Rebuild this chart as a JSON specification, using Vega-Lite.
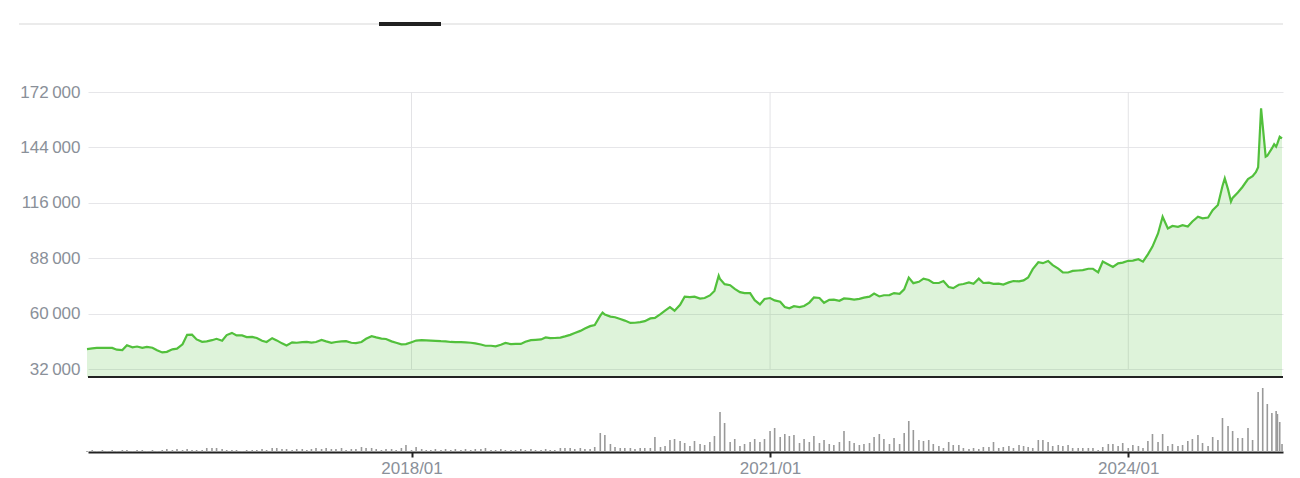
{
  "$schema": "https://vega.github.io/schema/vega-lite/v6.json",
  "autosize": {"type": "none"},
  "width": 1195,
  "height": 360,
  "padding": {"left": 88, "top": 92, "right": 17, "bottom": 26},
  "background": "#ffffff",
  "config": {
    "view": {"stroke": null},
    "font": "Liberation Sans"
  },
  "data": {"values": [
    {"d":"2015-04-15","p":42100,"v":1},{"d":"2015-05-01","p":42500,"v":2},{"d":"2015-05-15","p":42700,"v":1},
    {"d":"2015-06-01","p":42700,"v":2},{"d":"2015-06-15","p":42700,"v":1},{"d":"2015-07-01","p":42700,"v":2},
    {"d":"2015-07-15","p":41800,"v":1},{"d":"2015-08-01","p":41600,"v":2},{"d":"2015-08-15","p":44000,"v":2},
    {"d":"2015-09-01","p":43000,"v":1},{"d":"2015-09-15","p":43400,"v":2},{"d":"2015-10-01","p":42700,"v":2},
    {"d":"2015-10-15","p":43200,"v":1},{"d":"2015-11-01","p":42800,"v":2},{"d":"2015-11-15","p":41500,"v":1},
    {"d":"2015-12-01","p":40400,"v":2},{"d":"2015-12-15","p":40700,"v":3},{"d":"2016-01-01","p":42000,"v":2},
    {"d":"2016-01-15","p":42300,"v":3},{"d":"2016-02-01","p":44500,"v":2},{"d":"2016-02-15","p":49300,"v":3},
    {"d":"2016-03-01","p":49400,"v":2},{"d":"2016-03-15","p":47000,"v":2},{"d":"2016-04-01","p":45800,"v":2},
    {"d":"2016-04-15","p":46000,"v":4},{"d":"2016-05-01","p":46600,"v":4},{"d":"2016-05-15","p":47300,"v":4},
    {"d":"2016-06-01","p":46300,"v":3},{"d":"2016-06-15","p":49200,"v":2},{"d":"2016-07-01","p":50300,"v":2},
    {"d":"2016-07-15","p":49000,"v":2},{"d":"2016-08-01","p":49000,"v":1},{"d":"2016-08-15","p":48200,"v":2},
    {"d":"2016-09-01","p":48300,"v":2},{"d":"2016-09-15","p":47700,"v":2},{"d":"2016-10-01","p":46300,"v":3},
    {"d":"2016-10-15","p":45700,"v":2},{"d":"2016-11-01","p":47600,"v":4},{"d":"2016-11-15","p":46500,"v":4},
    {"d":"2016-12-01","p":45000,"v":3},{"d":"2016-12-15","p":43900,"v":3},{"d":"2017-01-01","p":45500,"v":2},
    {"d":"2017-01-15","p":45300,"v":3},{"d":"2017-02-01","p":45600,"v":3},{"d":"2017-02-15","p":45700,"v":2},
    {"d":"2017-03-01","p":45400,"v":3},{"d":"2017-03-15","p":45700,"v":4},{"d":"2017-04-01","p":46700,"v":3},
    {"d":"2017-04-15","p":46000,"v":4},{"d":"2017-05-01","p":45300,"v":3},{"d":"2017-05-15","p":45700,"v":3},
    {"d":"2017-06-01","p":46000,"v":4},{"d":"2017-06-15","p":46100,"v":2},{"d":"2017-07-01","p":45300,"v":3},
    {"d":"2017-07-15","p":45100,"v":3},{"d":"2017-08-01","p":45700,"v":5},{"d":"2017-08-15","p":47300,"v":4},
    {"d":"2017-09-01","p":48600,"v":4},{"d":"2017-09-15","p":48000,"v":3},{"d":"2017-10-01","p":47400,"v":2},
    {"d":"2017-10-15","p":47200,"v":3},{"d":"2017-11-01","p":46000,"v":3},{"d":"2017-11-15","p":45300,"v":2},
    {"d":"2017-12-01","p":44500,"v":4},{"d":"2017-12-15","p":44600,"v":7},{"d":"2018-01-01","p":45600,"v":2},
    {"d":"2018-01-15","p":46400,"v":5},{"d":"2018-02-01","p":46600,"v":3},{"d":"2018-02-15","p":46500,"v":2},
    {"d":"2018-03-01","p":46400,"v":2},{"d":"2018-03-15","p":46300,"v":3},{"d":"2018-04-01","p":46100,"v":2},
    {"d":"2018-04-15","p":46000,"v":3},{"d":"2018-05-01","p":45700,"v":2},{"d":"2018-05-15","p":45600,"v":3},
    {"d":"2018-06-01","p":45600,"v":2},{"d":"2018-06-15","p":45500,"v":3},{"d":"2018-07-01","p":45300,"v":2},
    {"d":"2018-07-15","p":45000,"v":3},{"d":"2018-08-01","p":44400,"v":3},{"d":"2018-08-15","p":43800,"v":4},
    {"d":"2018-09-01","p":43800,"v":2},{"d":"2018-09-15","p":43500,"v":2},{"d":"2018-10-01","p":44300,"v":3},
    {"d":"2018-10-15","p":45200,"v":2},{"d":"2018-11-01","p":44600,"v":2},{"d":"2018-11-15","p":44700,"v":2},
    {"d":"2018-12-01","p":44700,"v":3},{"d":"2018-12-15","p":45800,"v":2},{"d":"2019-01-01","p":46600,"v":3},
    {"d":"2019-01-15","p":46800,"v":2},{"d":"2019-02-01","p":47000,"v":2},{"d":"2019-02-15","p":48000,"v":3},
    {"d":"2019-03-01","p":47600,"v":2},{"d":"2019-03-15","p":47700,"v":2},{"d":"2019-04-01","p":47900,"v":4},
    {"d":"2019-04-15","p":48500,"v":4},{"d":"2019-05-01","p":49300,"v":4},{"d":"2019-05-15","p":50200,"v":3},
    {"d":"2019-06-01","p":51300,"v":4},{"d":"2019-06-15","p":52500,"v":3},{"d":"2019-07-01","p":53700,"v":3},
    {"d":"2019-07-15","p":54300,"v":5},{"d":"2019-08-01","p":59000,"v":19},{"d":"2019-08-08","p":60500},
    {"d":"2019-08-15","p":59500,"v":17},{"d":"2019-09-01","p":58500,"v":8},{"d":"2019-09-15","p":58200,"v":5},
    {"d":"2019-10-01","p":57300,"v":4},{"d":"2019-10-15","p":56500,"v":4},{"d":"2019-11-01","p":55300,"v":4},
    {"d":"2019-11-15","p":55400,"v":3},{"d":"2019-12-01","p":55700,"v":4},{"d":"2019-12-15","p":56200,"v":4},
    {"d":"2020-01-01","p":57600,"v":4},{"d":"2020-01-15","p":57900,"v":15},{"d":"2020-02-01","p":59800,"v":5},
    {"d":"2020-02-15","p":61500,"v":6},{"d":"2020-03-01","p":63300,"v":12},{"d":"2020-03-15","p":61500,"v":13},
    {"d":"2020-04-01","p":64500,"v":11},{"d":"2020-04-15","p":68600,"v":9},{"d":"2020-05-01","p":68400,"v":6},
    {"d":"2020-05-15","p":68600,"v":11},{"d":"2020-06-01","p":67600,"v":8},{"d":"2020-06-15","p":67900,"v":7},
    {"d":"2020-07-01","p":69200,"v":10},{"d":"2020-07-15","p":71500,"v":16},{"d":"2020-07-28","p":79200},
    {"d":"2020-08-01","p":77500,"v":40},{"d":"2020-08-15","p":74900,"v":29},{"d":"2020-09-01","p":74400,"v":10},
    {"d":"2020-09-15","p":72500,"v":13},{"d":"2020-10-01","p":70900,"v":6},{"d":"2020-10-15","p":70400,"v":8},
    {"d":"2020-11-01","p":70400,"v":10},{"d":"2020-11-15","p":66800,"v":13},{"d":"2020-12-01","p":64700,"v":10},
    {"d":"2020-12-15","p":67400,"v":13},{"d":"2021-01-01","p":67900,"v":21},{"d":"2021-01-15","p":66700,"v":24},
    {"d":"2021-02-01","p":66000,"v":15},{"d":"2021-02-15","p":63400,"v":18},{"d":"2021-03-01","p":62700,"v":16},
    {"d":"2021-03-15","p":63800,"v":17},{"d":"2021-04-01","p":63300,"v":9},{"d":"2021-04-15","p":63900,"v":13},
    {"d":"2021-05-01","p":65600,"v":10},{"d":"2021-05-15","p":68200,"v":16},{"d":"2021-06-01","p":67900,"v":9},
    {"d":"2021-06-15","p":65500,"v":12},{"d":"2021-07-01","p":67000,"v":8},{"d":"2021-07-15","p":67100,"v":7},
    {"d":"2021-08-01","p":66500,"v":10},{"d":"2021-08-15","p":67700,"v":21},{"d":"2021-09-01","p":67500,"v":11},
    {"d":"2021-09-15","p":67100,"v":9},{"d":"2021-10-01","p":67500,"v":7},{"d":"2021-10-15","p":68100,"v":8},
    {"d":"2021-11-01","p":68600,"v":9},{"d":"2021-11-15","p":70200,"v":15},{"d":"2021-12-01","p":68700,"v":18},
    {"d":"2021-12-15","p":69300,"v":13},{"d":"2022-01-01","p":69400,"v":8},{"d":"2022-01-15","p":70400,"v":14},
    {"d":"2022-02-01","p":70000,"v":8},{"d":"2022-02-15","p":72300,"v":19},{"d":"2022-03-01","p":78200,"v":31},
    {"d":"2022-03-15","p":75400,"v":22},{"d":"2022-04-01","p":76100,"v":12},{"d":"2022-04-15","p":77700,"v":11},
    {"d":"2022-05-01","p":77000,"v":12},{"d":"2022-05-15","p":75500,"v":8},{"d":"2022-06-01","p":75500,"v":6},
    {"d":"2022-06-15","p":76500,"v":4},{"d":"2022-07-01","p":73500,"v":10},{"d":"2022-07-15","p":72900,"v":7},
    {"d":"2022-08-01","p":74600,"v":7},{"d":"2022-08-15","p":75000,"v":4},{"d":"2022-09-01","p":75800,"v":3},
    {"d":"2022-09-15","p":75100,"v":4},{"d":"2022-10-01","p":77700,"v":3},{"d":"2022-10-15","p":75500,"v":5},
    {"d":"2022-11-01","p":75700,"v":5},{"d":"2022-11-15","p":75100,"v":10},{"d":"2022-12-01","p":75200,"v":4},
    {"d":"2022-12-15","p":74700,"v":5},{"d":"2023-01-01","p":75800,"v":6},{"d":"2023-01-15","p":76500,"v":4},
    {"d":"2023-02-01","p":76300,"v":7},{"d":"2023-02-15","p":76800,"v":6},{"d":"2023-03-01","p":78300,"v":5},
    {"d":"2023-03-15","p":82500,"v":4},{"d":"2023-04-01","p":86000,"v":12},{"d":"2023-04-15","p":85500,"v":12},
    {"d":"2023-05-01","p":86600,"v":10},{"d":"2023-05-15","p":84500,"v":6},{"d":"2023-06-01","p":82800,"v":7},
    {"d":"2023-06-15","p":80900,"v":6},{"d":"2023-07-01","p":80800,"v":7},{"d":"2023-07-15","p":81600,"v":4},
    {"d":"2023-08-01","p":81800,"v":4},{"d":"2023-08-15","p":82000,"v":4},{"d":"2023-09-01","p":82700,"v":4},
    {"d":"2023-09-15","p":82700,"v":4},{"d":"2023-10-01","p":80900,"v":2},{"d":"2023-10-15","p":86300,"v":5},
    {"d":"2023-11-01","p":84800,"v":8},{"d":"2023-11-15","p":83600,"v":8},{"d":"2023-12-01","p":85400,"v":6},
    {"d":"2023-12-15","p":85800,"v":9},{"d":"2024-01-01","p":86700,"v":4},{"d":"2024-01-15","p":86800,"v":7},
    {"d":"2024-02-01","p":87500,"v":6},{"d":"2024-02-15","p":86300,"v":4},{"d":"2024-03-01","p":90000,"v":11},
    {"d":"2024-03-15","p":93900,"v":18},{"d":"2024-04-01","p":100500,"v":10},{"d":"2024-04-15","p":109000,"v":18},
    {"d":"2024-05-01","p":103000,"v":6},{"d":"2024-05-15","p":104300,"v":8},{"d":"2024-06-01","p":103900,"v":6},
    {"d":"2024-06-15","p":104700,"v":7},{"d":"2024-07-01","p":104000,"v":11},{"d":"2024-07-15","p":106600,"v":13},
    {"d":"2024-08-01","p":109000,"v":17},{"d":"2024-08-15","p":108200,"v":9},{"d":"2024-09-01","p":108600,"v":6},
    {"d":"2024-09-15","p":112300,"v":15},{"d":"2024-10-01","p":114900,"v":12},{"d":"2024-10-15","p":124500,"v":34},
    {"d":"2024-10-22","p":128400},{"d":"2024-11-01","p":122800,"v":26},{"d":"2024-11-10","p":116600},
    {"d":"2024-11-15","p":118500,"v":21},{"d":"2024-12-01","p":121200,"v":14},{"d":"2024-12-15","p":124000,"v":14},
    {"d":"2025-01-01","p":128000,"v":24},{"d":"2025-01-15","p":129500,"v":12},{"d":"2025-01-25","p":131500},
    {"d":"2025-02-01","p":134000,"v":60},{"d":"2025-02-10","p":163800},{"d":"2025-02-15","p":155000,"v":64},
    {"d":"2025-02-24","p":139300},{"d":"2025-03-01","p":139800,"v":48},{"d":"2025-03-15","p":143500,"v":39},
    {"d":"2025-03-22","p":145600},{"d":"2025-03-28","p":144400,"v":41},{"d":"2025-04-01","p":146000,"v":38},
    {"d":"2025-04-08","p":149400,"v":30},{"d":"2025-04-15","p":148600,"v":8}
  ]},
  "encoding": {
    "x": {
      "field": "d", "type": "temporal", "title": null,
      "scale": {"type": "utc", "padding": 0, "domain": [{"year": 2015, "month": 4, "date": 18, "utc": true}, {"year": 2025, "month": 4, "date": 18, "utc": true}]},
      "axis": {
        "values": [{"year": 2018, "month": 1, "date": 1, "utc": true}, {"year": 2021, "month": 1, "date": 1, "utc": true}, {"year": 2024, "month": 1, "date": 1, "utc": true}],
        "format": "%Y/%m", "grid": false,
        "domain": true, "domainColor": "#222222", "domainWidth": 2,
        "ticks": true, "tickColor": "#222222", "tickWidth": 2, "tickSize": 5,
        "labelFont": "Liberation Sans", "labelFontSize": 17, "labelColor": "#8a9099", "labelPadding": 3
      }
    }
  },
  "layer": [
    {
      "layer": [
        {
          "mark": {"type": "rule", "color": "#ebebeb", "strokeWidth": 1.5},
          "encoding": {
            "x": {"datum": {"year": 2014, "month": 9, "date": 19, "utc": true}, "type": "temporal"},
            "x2": {"datum": {"year": 2025, "month": 4, "date": 18, "utc": true}},
            "y": {"datum": 206360, "type": "quantitative"}
          }
        },
        {
          "mark": {"type": "rule", "color": "#222222", "strokeWidth": 2.5},
          "encoding": {
            "x": {"datum": {"year": 2017, "month": 9, "date": 24, "utc": true}, "type": "temporal"},
            "x2": {"datum": {"year": 2018, "month": 4, "date": 1, "utc": true}},
            "y": {"datum": 206360, "type": "quantitative"}
          }
        },
        {
          "data": {"values": [{"g": "2018-01-01"}, {"g": "2021-01-01"}, {"g": "2024-01-01"}]},
          "mark": {"type": "rule", "color": "#e3e3e6", "strokeWidth": 1},
          "encoding": {
            "x": {"field": "g", "type": "temporal"},
            "y": {"datum": 32000, "type": "quantitative"},
            "y2": {"datum": 172000}
          }
        },
        {
          "mark": {"type": "area", "color": "#52c03c", "opacity": 0.19},
          "encoding": {
            "y": {
              "field": "p", "type": "quantitative", "title": null,
              "scale": {"domain": [-9895, 172000], "nice": false, "zero": false},
              "axis": {
                "values": [32000, 60000, 88000, 116000, 144000, 172000],
                "labelExpr": "replace(format(datum.value, ','), ',', '\u2009')",
                "grid": true, "gridColor": "#e6e6e9", "gridWidth": 1,
                "domain": false, "ticks": false,
                "labelFont": "Liberation Sans", "labelFontSize": 17, "labelColor": "#8a9099", "labelPadding": 8
              }
            },
            "y2": {"datum": 28000}
          }
        },
        {
          "mark": {"type": "line", "color": "#52c03c", "strokeWidth": 2.2},
          "encoding": {"y": {"field": "p", "type": "quantitative"}}
        },
        {
          "mark": {"type": "rule", "color": "#222222", "strokeWidth": 2},
          "encoding": {
            "x": {"datum": {"year": 2015, "month": 4, "date": 18, "utc": true}, "type": "temporal"},
            "x2": {"datum": {"year": 2025, "month": 4, "date": 18, "utc": true}},
            "y": {"datum": 28000, "type": "quantitative"}
          }
        }
      ]
    },
    {
      "mark": {"type": "bar", "color": "#999999", "width": 1.6},
      "encoding": {
        "y": {
          "field": "v", "type": "quantitative", "title": null,
          "scale": {"domain": [0, 360], "nice": false},
          "axis": null
        }
      }
    }
  ],
  "resolve": {"scale": {"y": "independent"}, "axis": {"y": "independent"}}
}
